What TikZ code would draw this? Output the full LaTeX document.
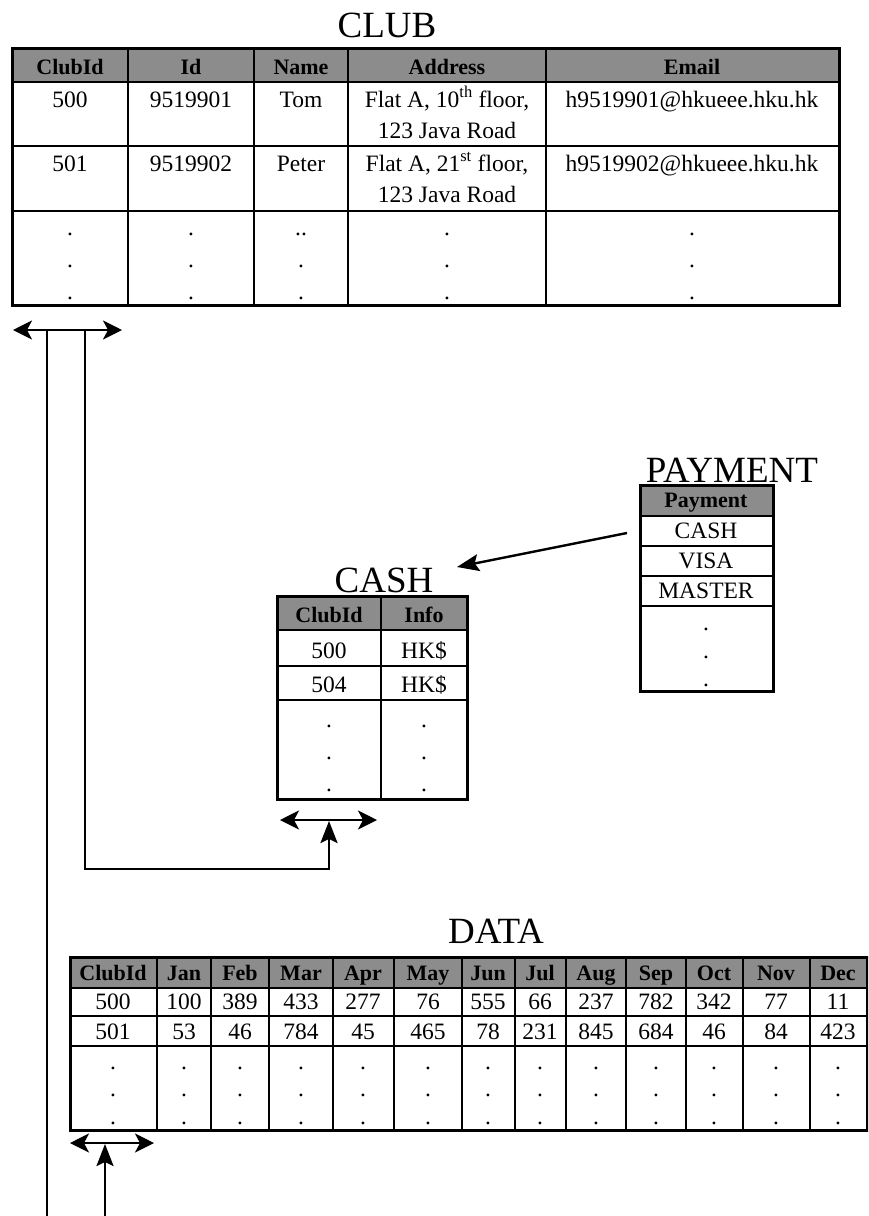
\documentclass[tikz,border=0pt]{standalone}
\usepackage{fontspec}
\setmainfont{Liberation Serif}
\usetikzlibrary{arrows.meta,positioning}

\begin{document}
\begin{tikzpicture}[
  x=1pt, y=-1pt,
  title/.style={font=\fontsize{37}{37}\selectfont, anchor=base, inner sep=0pt},
  txt/.style={font=\fontsize{23.5}{31}\selectfont, anchor=base, inner sep=0pt, align=center},
  hdr/.style={font=\fontsize{22}{24}\selectfont\bfseries, anchor=base, inner sep=0pt},
  dotcol/.style={font=\fontsize{23.5}{#1}\selectfont, anchor=base, inner sep=0pt, align=center},
  headfill/.style={fill=black!45},
  tblframe/.style={line width=3pt},
  rule/.style={line width=1.4pt},
  link/.style={line width=2.4pt},
  keyarr/.style={{Stealth[length=19pt,width=19pt,inset=5pt]}-{Stealth[length=19pt,width=19pt,inset=5pt]}, line width=2.4pt},
  arr/.style={-{Stealth[length=22pt,width=17pt,inset=4pt]}, line width=2.4pt}
]
\useasboundingbox (0,0) rectangle (868,1216);
\clip (0,0) rectangle (868,1216);

% CLUB table (multi-line texts sit on the baseline of their last line)
\node[title] (club-title) at (387,37) {CLUB};
\fill[headfill] (12,48) rectangle (839,82);
\draw[rule] (12,82) -- (839,82) (12,146) -- (839,146) (12,211) -- (839,211);
\foreach \x in {128,254,348,546} \draw[rule] (\x,48) -- (\x,305);
\draw[tblframe] (12,48) rectangle (839,305);
\foreach \x/\t [count=\i] in {70/ClubId, 191/Id, 301/Name, 447/Address, 692/Email}
  \node[hdr] (club-h\i) at (\x,74) {\t};
\node[txt] (club-a1) at (70,107)  {500};
\node[txt] (club-a2) at (191,107) {9519901};
\node[txt] (club-a3) at (301,107) {Tom};
\node[txt] (club-a4) at (447,138) {Flat A, 10\textsuperscript{th} floor,\\123 Java Road};
\node[txt] (club-a5) at (692,107) {h9519901@hkueee.hku.hk};
\node[txt] (club-b1) at (70,171)  {501};
\node[txt] (club-b2) at (191,171) {9519902};
\node[txt] (club-b3) at (301,171) {Peter};
\node[txt] (club-b4) at (447,202) {Flat A, 21\textsuperscript{st} floor,\\123 Java Road};
\node[txt] (club-b5) at (692,171) {h9519902@hkueee.hku.hk};
\foreach \x/\t [count=\i] in {70/., 191/., 301/.., 447/., 692/.}
  \node[dotcol=32] (club-d\i) at (\x,299) {\t\\.\\.};

% PAYMENT table
\node[title] (pay-title) at (732,482) {PAYMENT};
\fill[headfill] (640,485) rectangle (773,516);
\draw[rule] (640,516) -- (773,516) (640,546) -- (773,546) (640,576) -- (773,576) (640,606) -- (773,606);
\draw[tblframe] (640,485) rectangle (773,691);
\node[hdr] (pay-h) at (706,507) {Payment};
\node[txt] (pay-cash)   at (706,538) {CASH};
\node[txt] (pay-visa)   at (706,568) {VISA};
\node[txt] (pay-master) at (706,598) {MASTER};
\node[dotcol=28] (pay-d) at (706,686) {.\\.\\.};

% CASH table
\node[title] (cash-title) at (384,592) {CASH};
\fill[headfill] (277,596) rectangle (467,630);
\draw[rule] (277,630) -- (467,630) (277,666) -- (467,666) (277,700) -- (467,700) (381,596) -- (381,799);
\draw[tblframe] (277,596) rectangle (467,799);
\node[hdr] (cash-h1) at (329,622) {ClubId};
\node[hdr] (cash-h2) at (424,622) {Info};
\node[txt] (cash-a1) at (329,658) {500};
\node[txt] (cash-a2) at (424,658) {HK\$};
\node[txt] (cash-b1) at (329,692) {504};
\node[txt] (cash-b2) at (424,692) {HK\$};
\node[dotcol=32] (cash-d1) at (329,791) {.\\.\\.};
\node[dotcol=32] (cash-d2) at (424,791) {.\\.\\.};

% DATA table
\node[title] (data-title) at (496,943) {DATA};
\fill[headfill] (70,957) rectangle (867,988);
\draw[rule] (70,988) -- (867,988) (70,1016) -- (867,1016) (70,1046) -- (867,1046);
\foreach \x in {157,211,269,333,394,462,515,566,626,686,743,810}
  \draw[rule] (\x,957) -- (\x,1130);
\draw[tblframe] (70,957) rectangle (867,1130);
\foreach \x/\h/\a/\b [count=\i] in {113/ClubId/500/501, 184/Jan/100/53, 240/Feb/389/46,
    301/Mar/433/784, 363/Apr/277/45, 428/May/76/465, 488/Jun/555/78, 540/Jul/66/231,
    596/Aug/237/845, 656/Sep/782/684, 714/Oct/342/46, 776/Nov/77/84, 838/Dec/11/423} {
  \node[hdr] (data-h\i) at (\x,980) {\h};
  \node[txt] (data-a\i) at (\x,1009) {\a};
  \node[txt] (data-b\i) at (\x,1039) {\b};
  \node[dotcol=27.5] (data-d\i) at (\x,1124) {.\\.\\.};
}

% key arrows and links
\coordinate (club-key-l) at (13,330);
\coordinate (club-key-r) at (122,330);
\coordinate (cash-key-l) at (280,820);
\coordinate (cash-key-r) at (377,820);
\coordinate (data-key-l) at (70,1143);
\coordinate (data-key-r) at (154,1143);
\coordinate (club-out1) at (47,330);
\coordinate (club-out2) at (85,330);
\coordinate (cash-bend) at (329,869);
\coordinate (cash-in)   at (329,821);
\coordinate (lower-end) at (47,1216);
\coordinate (data-feed) at (105,1216);
\coordinate (data-in)   at (105,1144);
\coordinate (pay-src)   at (627,533);
\coordinate (cash-dst)  at (457,567);

\draw[keyarr] (club-key-l) -- (club-key-r);
\draw[keyarr] (cash-key-l) -- (cash-key-r);
\draw[keyarr] (data-key-l) -- (data-key-r);
\draw[link] (club-out1) -- (lower-end);
\draw[arr]  (club-out2) |- (cash-bend) -- (cash-in);
\draw[arr]  (data-feed) -- (data-in);
\draw[arr]  (pay-src) -- (cash-dst);
\end{tikzpicture}
\end{document}
